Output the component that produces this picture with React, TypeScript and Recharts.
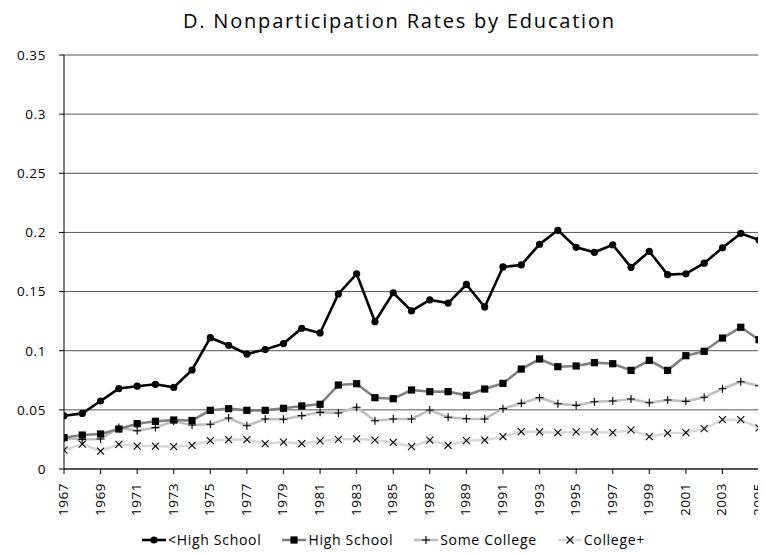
import { LineChart, Line, XAxis, YAxis, CartesianGrid, Legend } from 'recharts';

const YEARS = [
  1967, 1968, 1969, 1970, 1971, 1972, 1973, 1974, 1975, 1976,
  1977, 1978, 1979, 1980, 1981, 1982, 1983, 1984, 1985, 1986,
  1987, 1988, 1989, 1990, 1991, 1992, 1993, 1994, 1995, 1996,
  1997, 1998, 1999, 2000, 2001, 2002, 2003, 2004, 2005, 2006,
];

const LESS_HS = [
  0.045, 0.047, 0.0575, 0.068, 0.070, 0.0716, 0.069, 0.0837, 0.111, 0.1046,
  0.0972, 0.101, 0.106, 0.119, 0.115, 0.148, 0.165, 0.1245, 0.149, 0.1336,
  0.1429, 0.1403, 0.156, 0.137, 0.1708, 0.1725, 0.190, 0.2018, 0.1874, 0.1832,
  0.1896, 0.1705, 0.184, 0.1643, 0.165, 0.174, 0.187, 0.1992, 0.1936, 0.204,
];

const HIGH_SCHOOL = [
  0.0265, 0.0287, 0.0296, 0.0338, 0.0383, 0.0403, 0.0414, 0.041, 0.0496, 0.051,
  0.0496, 0.0496, 0.0513, 0.0533, 0.0547, 0.071, 0.0721, 0.0603, 0.0594, 0.0668,
  0.0654, 0.0654, 0.0623, 0.0676, 0.0724, 0.0845, 0.093, 0.0865, 0.0871, 0.0899,
  0.089, 0.0834, 0.0919, 0.0834, 0.0958, 0.0995, 0.1107, 0.1198, 0.1093, 0.105,
];

const SOME_COLLEGE = [
  0.026, 0.025, 0.0254, 0.035, 0.0324, 0.035, 0.0403, 0.0372, 0.0378, 0.0431,
  0.0366, 0.0423, 0.042, 0.0451, 0.0479, 0.0473, 0.0522, 0.0408, 0.0423, 0.0423,
  0.0499, 0.0437, 0.0425, 0.0423, 0.051, 0.0555, 0.0603, 0.0552, 0.0538, 0.0569,
  0.0575, 0.0592, 0.056, 0.0583, 0.0572, 0.0606, 0.0679, 0.0738, 0.0704, 0.070,
];

const COLLEGE_PLUS = [
  0.016, 0.0211, 0.0152, 0.0209, 0.0194, 0.0194, 0.0189, 0.020, 0.0239, 0.0248,
  0.0248, 0.0214, 0.0228, 0.0214, 0.0237, 0.0251, 0.0254, 0.0245, 0.0225, 0.0189,
  0.0245, 0.020, 0.0239, 0.0245, 0.0273, 0.0316, 0.0313, 0.0307, 0.0313, 0.0313,
  0.0307, 0.033, 0.0273, 0.0304, 0.0307, 0.0341, 0.0417, 0.0417, 0.0347, 0.034,
];

const X_TICKS = [
  1967, 1969, 1971, 1973, 1975, 1977, 1979, 1981, 1983, 1985,
  1987, 1989, 1991, 1993, 1995, 1997, 1999, 2001, 2003, 2005,
];
const Y_TICKS = [0, 0.05, 0.1, 0.15, 0.2, 0.25, 0.3, 0.35];

const data = YEARS.map((year, i) => ({
  year,
  lessHs: LESS_HS[i],
  hs: HIGH_SCHOOL[i],
  someCollege: SOME_COLLEGE[i],
  collegePlus: COLLEGE_PLUS[i],
}));

// Calibri isn't available; Open Sans with a little tracking gets close to its widths
const FONT = '"Open Sans", Lato, sans-serif';

type Marker = 'circle' | 'square' | 'plus' | 'cross';

function MarkerShape({ kind, cx, cy }: { kind: Marker; cx: number; cy: number }) {
  if (kind === 'circle') return <circle cx={cx} cy={cy} r={3.6} fill="#000" />;
  if (kind === 'square') return <rect x={cx - 3.6} y={cy - 3.6} width={7.2} height={7.2} fill="#000" />;
  if (kind === 'plus') {
    return (
      <path d={`M${cx - 4},${cy}H${cx + 4}M${cx},${cy - 4}V${cy + 4}`} stroke="#000" strokeWidth={1.1} />
    );
  }
  return (
    <path
      d={`M${cx - 3.5},${cy - 3.5}L${cx + 3.5},${cy + 3.5}M${cx - 3.5},${cy + 3.5}L${cx + 3.5},${cy - 3.5}`}
      stroke="#000"
      strokeWidth={1.1}
    />
  );
}

const makeDot = (kind: Marker) => (props: any) => {
  const { cx, cy, index } = props;
  if (cx == null || cy == null) return <g key={`${kind}-${index}`} />;
  return (
    <g key={`${kind}-${index}`}>
      <MarkerShape kind={kind} cx={cx} cy={cy} />
    </g>
  );
};

const SERIES: { key: string; name: string; color: string; marker: Marker }[] = [
  { key: 'lessHs', name: '<High School', color: '#000000', marker: 'circle' },
  { key: 'hs', name: 'High School', color: '#808080', marker: 'square' },
  { key: 'someCollege', name: 'Some College', color: '#bfbfbf', marker: 'plus' },
  { key: 'collegePlus', name: 'College+', color: '#d9d9d9', marker: 'cross' },
];

function YearTick({ x, y, payload }: any) {
  return (
    <text
      x={0}
      y={0}
      transform={`translate(${x - 1},${y + 7}) rotate(-90)`}
      textAnchor="end"
      dominantBaseline="central"
      fontSize={13.5}
      letterSpacing={0.5}
      fontFamily={FONT}
      fill="#000"
    >
      {payload.value}
    </text>
  );
}

function LegendRow() {
  return (
    <div
      style={{
        display: 'flex',
        justifyContent: 'center',
        gap: 20,
        fontFamily: FONT,
        fontSize: 14,
        letterSpacing: 0.7,
        paddingLeft: 12,
      }}
    >
      {SERIES.map((s) => (
        <div key={s.key} style={{ display: 'flex', alignItems: 'center' }}>
          <svg width={26} height={12} style={{ marginRight: 1 }}>
            <line x1={1} y1={6} x2={25} y2={6} stroke={s.color} strokeWidth={2.6} />
            <MarkerShape kind={s.marker} cx={13} cy={6} />
          </svg>
          <span>{s.name}</span>
        </div>
      ))}
    </div>
  );
}

export default function App() {
  return (
    <div style={{ position: 'relative', width: 758, height: 548, fontFamily: FONT }}>
      <div
        style={{
          position: 'absolute',
          top: 3,
          left: 175,
          whiteSpace: 'nowrap',
          fontSize: 20,
          lineHeight: '20px',
          letterSpacing: 1.8,
          color: '#000',
        }}
      >
        D. Nonparticipation Rates by Education
      </div>
      <LineChart
        width={758}
        height={548}
        data={data}
        margin={{ top: 47, right: 0, left: 8, bottom: 27 }}
      >
        <CartesianGrid vertical={false} stroke="#555" strokeWidth={1} />
        <XAxis
          dataKey="year"
          type="number"
          domain={[1967, 2005.38]}
          allowDataOverflow
          ticks={X_TICKS}
          interval={0}
          height={60}
          tick={<YearTick />}
          tickSize={5}
          axisLine={{ stroke: '#000' }}
          tickLine={{ stroke: '#000' }}
        />
        <YAxis
          domain={[0, 0.35]}
          ticks={Y_TICKS}
          interval={0}
          width={48}
          tickSize={5}
          tickMargin={13}
          axisLine={{ stroke: '#000' }}
          tickLine={{ stroke: '#000' }}
          tick={{ fontSize: 13.5, fill: '#000', fontFamily: FONT, letterSpacing: 0.6 }}
        />
        {SERIES.slice().reverse().map((s) => (
          <Line
            key={s.key}
            type="linear"
            dataKey={s.key}
            name={s.name}
            stroke={s.color}
            strokeWidth={2.6}
            dot={makeDot(s.marker)}
            activeDot={false}
            isAnimationActive={false}
          />
        ))}
        <Legend
          verticalAlign="middle"
          align="center"
          layout="horizontal"
          wrapperStyle={{ top: 522, left: 0, width: 758 }}
          content={() => <LegendRow />}
        />
      </LineChart>
    </div>
  );
}
